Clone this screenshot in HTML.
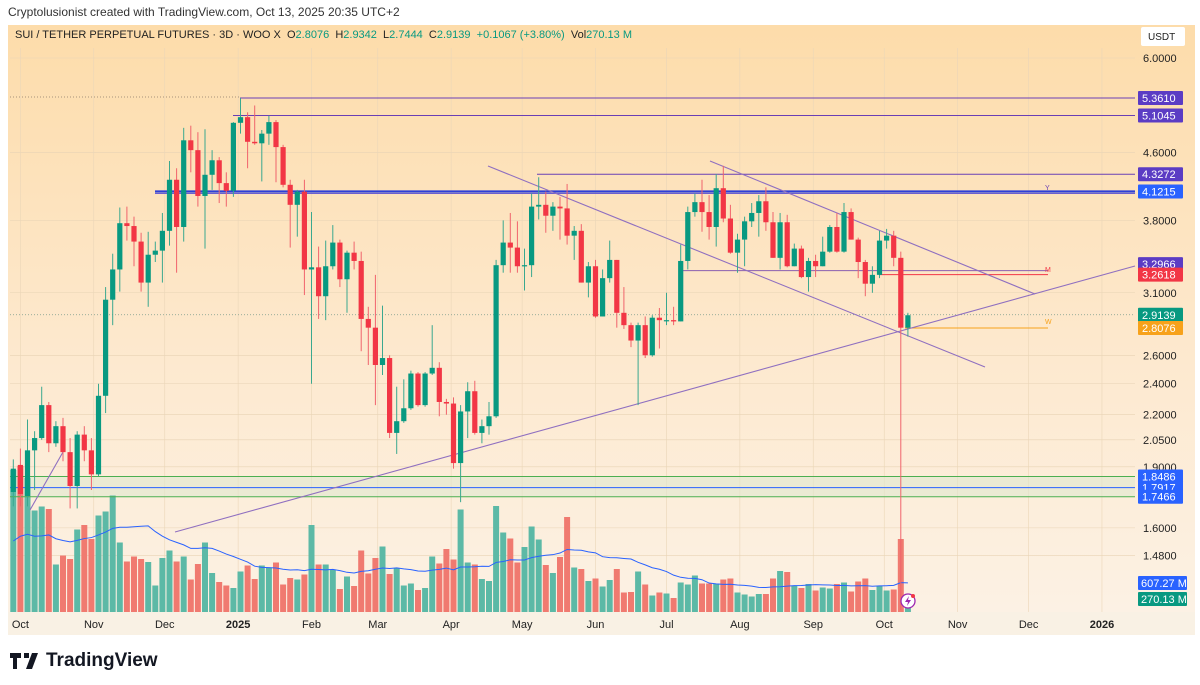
<!DOCTYPE html>
<html><head><meta charset="utf-8">
<style>
body{margin:0;width:1200px;height:685px;overflow:hidden;background:#fff;font-family:"Liberation Sans",sans-serif;}
#hdr{position:absolute;left:8px;top:5px;font-size:12px;color:#333;}
#panel{position:absolute;left:8px;top:25px;width:1187px;height:610px;background:linear-gradient(#fddcaa,#fde9cf 55%,#fcf2e6);}
#title{position:absolute;left:15px;top:29px;font-size:11px;color:#222;white-space:nowrap;}
#title .g{color:#089981}
#logo{position:absolute;left:10px;top:650px;font-size:19px;font-weight:bold;color:#131722;display:flex;align-items:center;gap:6px;}
svg{position:absolute;left:0;top:0;}
</style></head><body>
<div id="hdr">Cryptolusionist created with TradingView.com, Oct 13, 2025 20:35 UTC+2</div>
<div id="panel"></div>
<svg id="chart" width="1200" height="685"></svg>
<div id="title">SUI / TETHER PERPETUAL FUTURES · 3D · WOO X &nbsp;O<span class="g">2.8076</span> &nbsp;H<span class="g">2.9342</span> &nbsp;L<span class="g">2.7444</span> &nbsp;C<span class="g">2.9139</span> &nbsp;<span class="g">+0.1067 (+3.80%)</span> &nbsp;Vol<span class="g">270.13 M</span></div>
<div id="logo"><svg width="30" height="16" style="position:static" viewBox="0 0 30 16"><path d="M0 0h11v5H7v11H3V5H0z M14 0h5v5h-5z M22 0h6l-6 16h-6z" fill="#131722"/></svg><span>TradingView</span></div>
<script>
const opens=[1.77,1.91,1.75,1.99,2.06,2.26,2.03,2.13,1.98,1.80,2.08,1.99,1.86,2.32,3.04,3.31,3.77,3.74,3.58,3.19,3.45,3.49,3.69,4.26,3.73,4.76,4.63,4.07,4.32,4.50,4.22,4.13,5.00,5.08,4.74,4.72,4.85,5.01,4.67,4.20,3.97,4.12,3.31,3.33,3.07,3.34,3.57,3.22,3.47,3.39,2.88,2.81,2.53,2.58,2.09,2.16,2.24,2.47,2.26,2.47,2.51,2.28,2.27,1.92,2.22,2.35,2.09,2.13,2.19,3.35,3.57,3.52,3.34,3.35,3.95,3.97,3.85,3.95,3.93,3.64,3.69,3.19,3.34,2.90,3.23,3.40,2.93,2.83,2.71,2.83,2.60,2.89,2.87,2.87,2.86,3.39,3.89,4.00,3.89,3.73,4.16,3.82,3.47,3.60,3.79,3.88,4.01,3.78,3.42,3.78,3.34,3.51,3.24,3.39,3.34,3.48,3.73,3.48,3.89,3.60,3.38,3.18,3.26,3.59,3.64,3.42,2.81];
const highs=[1.94,2.00,2.17,2.10,2.38,2.28,2.16,2.18,2.06,2.10,2.13,2.06,2.40,3.15,3.46,3.94,3.95,3.84,3.67,3.68,3.58,3.88,4.49,4.40,4.93,4.96,4.87,4.91,4.63,4.54,4.35,5.01,5.36,5.15,5.25,4.90,5.10,5.04,4.70,4.26,4.14,4.26,3.89,3.53,3.59,3.75,3.60,3.49,3.58,3.48,2.98,3.26,2.99,2.60,2.38,2.43,2.49,2.48,2.48,2.83,2.55,2.30,2.31,2.26,2.41,2.42,2.17,2.28,3.40,3.80,3.88,3.79,3.51,4.10,4.29,4.12,4.00,4.06,4.21,3.74,3.76,3.38,3.40,3.31,3.59,3.40,3.15,2.85,2.85,2.90,2.91,2.97,3.10,2.98,3.55,3.95,4.10,4.26,4.08,4.33,4.43,3.97,3.66,3.84,3.99,4.08,4.17,3.89,3.88,3.86,3.56,3.54,3.42,3.45,3.63,3.75,3.88,3.99,3.93,3.62,3.40,3.34,3.69,3.71,3.69,3.48,2.93];
const lows=[1.70,1.70,1.70,1.78,2.05,1.98,2.01,1.93,1.69,1.69,1.93,1.78,1.85,2.21,2.83,3.11,3.59,3.34,3.11,2.98,3.38,3.19,3.54,3.28,3.58,4.35,3.95,3.51,4.14,3.99,3.95,4.06,4.85,4.40,4.70,4.24,4.70,4.23,4.17,3.52,3.63,3.08,2.40,2.88,2.87,3.31,3.15,2.93,3.31,2.63,2.53,2.26,2.46,2.06,1.97,2.15,2.23,2.25,2.25,2.46,2.19,2.20,1.89,1.72,2.06,2.08,2.03,2.08,2.18,3.28,3.28,3.28,3.12,3.24,3.81,3.67,3.69,3.60,3.55,3.40,3.19,3.06,2.89,2.90,3.19,2.81,2.80,2.66,2.26,2.58,2.59,2.65,2.83,2.83,2.86,3.31,3.84,3.68,3.60,3.53,3.78,3.46,3.28,3.34,3.73,3.63,3.69,3.42,3.31,3.33,3.34,3.23,3.11,3.24,3.34,3.47,3.47,3.47,3.60,3.23,3.07,3.10,3.23,3.51,3.34,1.27,2.74];
const closes=[1.89,1.76,1.99,2.06,2.26,2.03,2.13,1.98,1.80,2.08,1.99,1.86,2.32,3.04,3.31,3.77,3.74,3.58,3.19,3.45,3.49,3.69,4.26,3.73,4.76,4.63,4.07,4.32,4.50,4.22,4.13,5.00,5.08,4.74,4.72,4.85,5.01,4.67,4.20,3.97,4.12,3.31,3.33,3.07,3.34,3.57,3.22,3.47,3.39,2.88,2.81,2.53,2.58,2.09,2.16,2.24,2.47,2.26,2.47,2.51,2.28,2.27,1.92,2.22,2.35,2.09,2.13,2.19,3.35,3.57,3.52,3.34,3.35,3.95,3.97,3.85,3.95,3.93,3.64,3.69,3.19,3.34,2.90,3.23,3.40,2.93,2.83,2.71,2.83,2.60,2.89,2.87,2.87,2.86,3.39,3.89,4.00,3.89,3.73,4.16,3.82,3.47,3.60,3.79,3.88,4.01,3.78,3.42,3.78,3.34,3.51,3.24,3.39,3.34,3.48,3.73,3.48,3.89,3.60,3.38,3.18,3.26,3.59,3.64,3.42,2.81,2.91];
const volumes=[2840,2920,2680,2030,2110,2060,950,1130,1060,1650,1740,1460,1930,2010,2330,1390,1010,1110,1060,1000,530,1080,1230,1010,1110,650,960,1390,780,600,530,480,810,930,660,930,880,990,550,680,650,750,1740,950,950,850,460,710,520,1230,770,1080,1310,760,880,530,570,440,480,1110,970,1260,1050,2050,990,950,660,620,2120,1590,1470,990,1300,1710,1450,940,780,1100,1900,890,860,620,670,510,640,860,390,400,810,550,330,390,370,280,590,550,730,570,570,570,650,670,390,350,310,360,360,670,820,800,530,480,560,430,490,470,560,590,410,610,670,440,520,430,450,1460,270];
const priceTicks=[6.0,4.6,3.8,3.1,2.6,2.4,2.2,2.05,1.9,1.6,1.48];
const monthLabels=["Oct","Nov","Dec","2025","Feb","Mar","Apr","May","Jun","Jul","Aug","Sep","Oct","Nov","Dec","2026"];
const monthDays=[3,34,64,95,126,154,185,215,246,276,307,338,368,399,429,460];
const levels=[{p:5.3610,c:"#6a3fb5",x0:240,lab:"5.3610"},{p:5.1045,c:"#6a3fb5",x0:233,lab:"5.1045"},{p:4.3272,c:"#6a3fb5",x0:537,lab:"4.3272"},{p:4.1215,c:"#2e3fd6",x0:155,lab:"4.1215",bg:"#2962ff",w:2.2},{p:1.8486,c:"#4caf50",x0:10,lab:"1.8486",bg:"#2962ff"},{p:1.7917,c:"#2962ff",x0:10,lab:"1.7917",bg:"#2962ff"},{p:1.7466,c:"#4caf50",x0:10,lab:"1.7466",bg:"#2962ff"}];

const svg=document.getElementById('chart');
const NS="http://www.w3.org/2000/svg";
function X(i){return 13.3+i*7.1;}
function XD(d){return 13.3+d*7.1/3;}
function Y(p){return 58+(Math.log(6)-Math.log(p))*355.5;}
function VY(v){return 612-v/20;}
function mk(tag,attrs,parent){const e=document.createElementNS(NS,tag);for(const k in attrs)e.setAttribute(k,attrs[k]);(parent||svg).appendChild(e);return e;}
const RIGHT=1135;
// grid
const grid=mk('g',{});


priceTicks.forEach(p=>{mk('line',{x1:10,x2:RIGHT,y1:Y(p),y2:Y(p),stroke:'#e8d3b5','stroke-width':0.6},grid);});
monthDays.forEach(d=>{mk('line',{x1:XD(d),x2:XD(d),y1:48,y2:612,stroke:'#ead6b8','stroke-width':0.6},grid);});
// support band
const band=mk('rect',{x:10,y:Y(1.8486),width:RIGHT-10,height:Y(1.7466)-Y(1.8486),fill:'#dfe8cf','fill-opacity':0.6});


// volume
const vg=mk('g',{});


volumes.forEach((v,i)=>{const up=closes[i]>=opens[i];
 const r=mk('rect',{x:X(i)-3,y:VY(v),width:6,height:612-VY(v),fill:up?'#5cb9a6':'#f07a70'},vg);
 
 });
// volume MA
let pts=[];for(let i=0;i<volumes.length;i++){let s=0,n=0;for(let j=Math.max(0,i-19);j<=i;j++){s+=volumes[j];n++;}pts.push(X(i)+','+VY(s/n*(i<19?0.5+0.5*i/19:1)));}
const ma=mk('polyline',{points:pts.join(' '),fill:'none',stroke:'#2962ff','stroke-width':1});


// levels
levels.forEach(l=>{const ln=mk('line',{x1:l.x0,x2:RIGHT,y1:Y(l.p),y2:Y(l.p),stroke:l.c,'stroke-width':l.w||1});
 
 });
mk('line',{x1:10,x2:240,y1:Y(5.361)-1,y2:Y(5.361)-1,stroke:'#8a7a6a','stroke-width':0.7,'stroke-dasharray':'1 2'});
mk('line',{x1:155,x2:RIGHT,y1:Y(4.1215)+2,y2:Y(4.1215)+2,stroke:'#6a5fd0','stroke-width':1});
mk('line',{x1:683,x2:1048,y1:Y(3.2618)-4,y2:Y(3.2618)-4,stroke:'#8a5fb0','stroke-width':1});
mk('line',{x1:880,x2:1048,y1:Y(3.2618),y2:Y(3.2618),stroke:'#f23645','stroke-width':1});
mk('line',{x1:905,x2:1048,y1:Y(2.8076),y2:Y(2.8076),stroke:'#f7a21b','stroke-width':1});
mk('line',{x1:10,x2:RIGHT,y1:Y(2.9139),y2:Y(2.9139),stroke:'#7a9a8a','stroke-width':0.7,'stroke-dasharray':'1 2'});
// trendlines
[[175,532,1135,266],[488,166,985,367],[710,161,1035,294],[30,510,63,452]].forEach(t=>{
 const l=mk('line',{x1:t[0],y1:t[1],x2:t[2],y2:t[3],stroke:'#8f6fc0','stroke-width':1.1});
 
 });
[["Y",1045,190,"#6a3fb5"],["M",1045,272,"#f23645"],["W",1045,324,"#f7a21b"]].forEach(t=>{const e=mk('text',{x:t[1],y:t[2],'font-size':7,fill:t[3],'font-family':'Liberation Sans'});e.textContent=t[0];
 
 });
// candles
const cg=mk('g',{});


opens.forEach((o,i)=>{const c=closes[i],up=c>=o,col=up?'#089981':'#f23645';
 mk('line',{x1:X(i),x2:X(i),y1:Y(highs[i]),y2:Y(lows[i]),stroke:up?'#3aa88f':'#f0636c','stroke-width':1},cg);
 const t=Y(Math.max(o,c)),b=Y(Math.min(o,c));
 const r=mk('rect',{x:X(i)-2.6,y:t,width:5.2,height:Math.max(1.2,b-t),fill:col},cg);
 
 });
// price axis
priceTicks.forEach(p=>{const e=mk('text',{x:1143,y:Y(p)+4,'font-size':11,fill:'#222','font-family':'Liberation Sans'});e.textContent=p.toFixed(4);
 
 });
const boxes=[["5.3610",5.361,"#5b3cc4"],["5.1045",5.1045,"#5b3cc4"],["4.3272",4.3272,"#5b3cc4"],["4.1215",4.1215,"#2962ff"],["3.2966",3.36,"#5b3cc4"],["3.2618",3.2618,"#f23645"],["2.9139",2.9139,"#089981"],["2.8076",2.8076,"#f7a21b"],["1.8486",1.8486,"#2962ff"],["1.7917",1.7917,"#2962ff"],["1.7466",1.7466,"#2962ff"]];
boxes.forEach(b=>{const y=Y(b[1]);const g=mk('g',{});
 
 
 mk('rect',{x:1138,y:y-7,width:45,height:14,fill:b[2],rx:1},g);
 const t=mk('text',{x:1142,y:y+4,'font-size':11,fill:'#fff','font-family':'Liberation Sans'},g);t.textContent=b[0];});
[["607.27 M",583,"#2962ff"],["270.13 M",599,"#089981"]].forEach(b=>{const g=mk('g',{});
 
 
 mk('rect',{x:1138,y:b[1]-7,width:49,height:14,fill:b[2],rx:1},g);
 const t=mk('text',{x:1141,y:b[1]+4,'font-size':11,fill:'#fff','font-family':'Liberation Sans'},g);t.textContent=b[0];});
const ub=mk('rect',{x:1141,y:27,width:44,height:19,fill:'#fff',rx:2});


const ut=mk('text',{x:1148,y:40,'font-size':10,fill:'#222','font-family':'Liberation Sans'});ut.textContent="USDT";
// time axis
mk('rect',{x:8,y:612,width:1187,height:23,fill:'#f9f1e4'});
monthLabels.forEach((m,i)=>{const e=mk('text',{x:XD(monthDays[i]),y:628,'font-size':11,fill:'#222','text-anchor':'middle','font-weight':m.length===4?'bold':'normal','font-family':'Liberation Sans'});e.textContent=m;
 
 });
// lightning icon
const ic=mk('g',{});


mk('circle',{cx:908,cy:601,r:7,fill:'#fff',stroke:'#9c27b0','stroke-width':1.3},ic);
mk('path',{d:'M909 596l-4 6h3l-1 4 4-6h-3z',fill:'#9c27b0'},ic);
mk('circle',{cx:913,cy:596,r:2,fill:'#f23645'},ic);
</script>
</body></html>
